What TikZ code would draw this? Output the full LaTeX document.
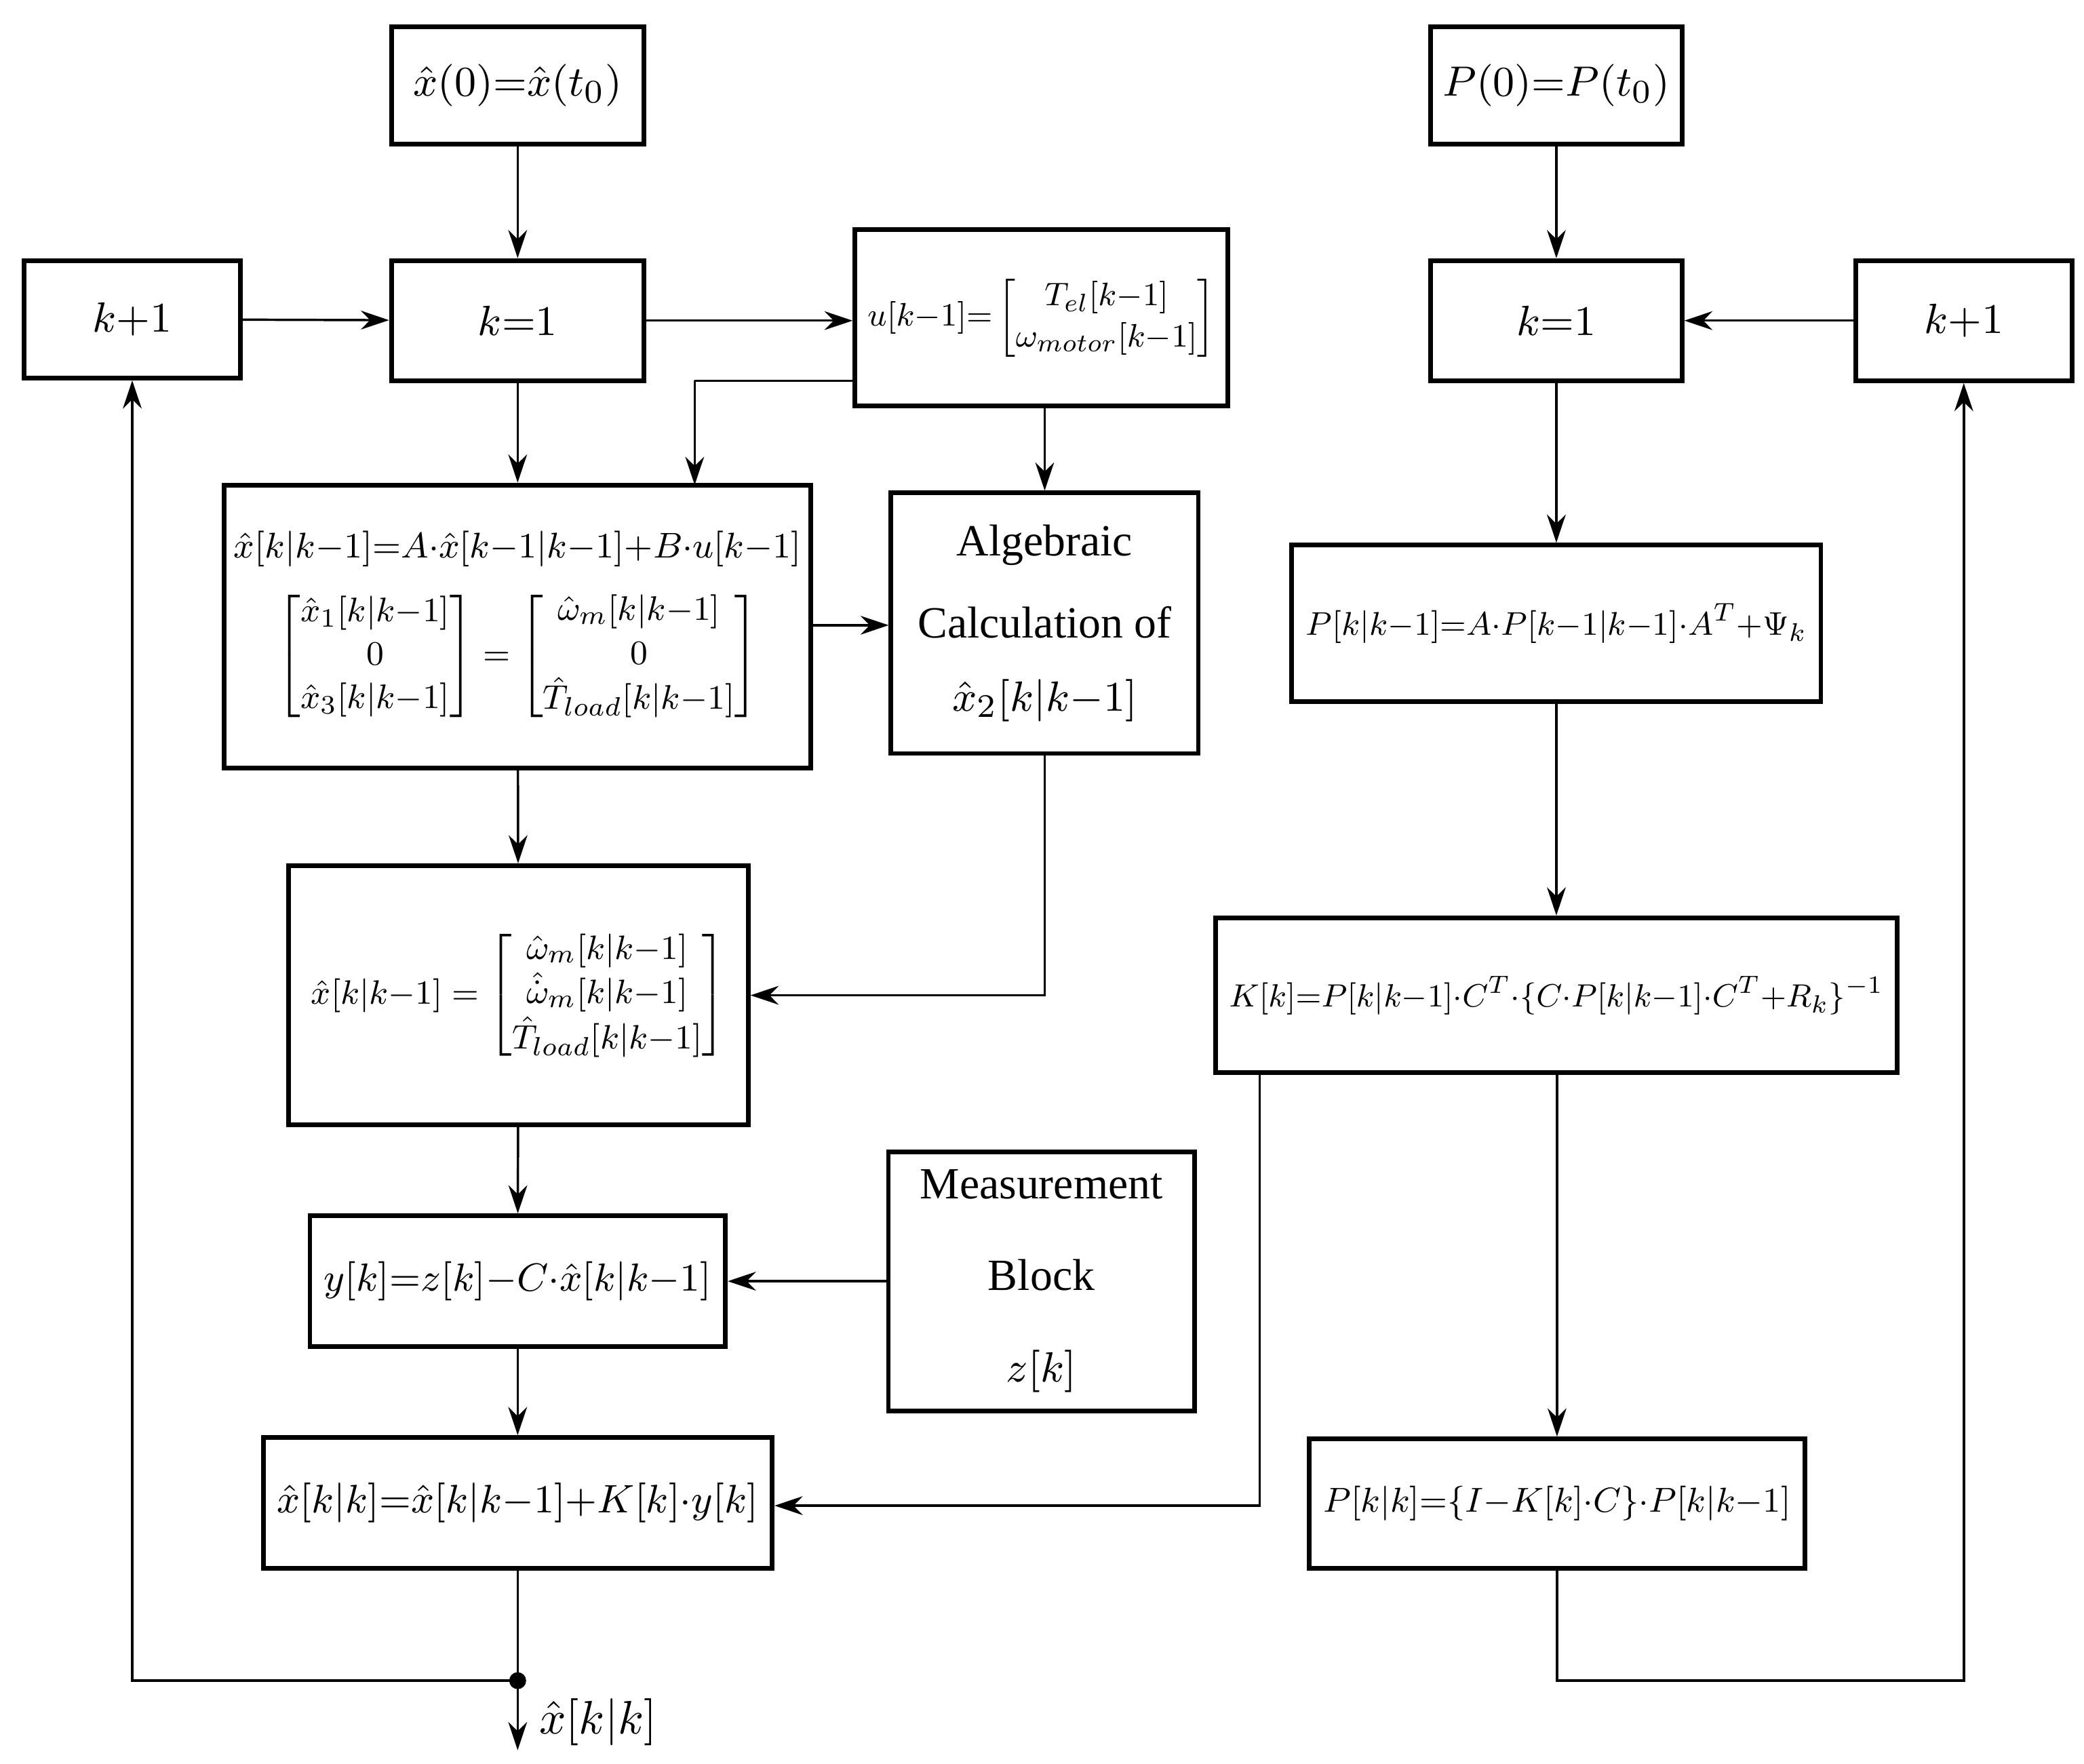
\documentclass[tikz,border=0pt]{standalone}
\usepackage{amsmath}
\usepackage{graphicx}
\usepackage{fontspec}
\setmainfont{Liberation Serif}
\usetikzlibrary{arrows.meta, calc}
\newcommand{\fitw}[2]{\resizebox{#1}{!}{#2}}

\begin{document}
\begin{tikzpicture}[
  box/.style={draw, line width=1pt, inner sep=0pt, align=center, font=\fontsize{9.5}{11.5}\selectfont},
  arr/.style={-{Stealth[length=6pt,width=4pt]}, line width=0.5pt},
  ln/.style={line width=0.5pt},
]
  \useasboundingbox (0,0) rectangle (15.6,-13.2);

  % Left column: state estimate
  \node[box, minimum width=1.89cm, minimum height=0.88cm] (xinit) at (3.875,-0.64) {$\hat{x}(0){=}\hat{x}(t_0)$};
  \node[box, minimum width=1.89cm, minimum height=0.90cm] (kL) at (3.875,-2.40) {$k{=}1$};
  \node[box, minimum width=1.62cm, minimum height=0.88cm] (kpL) at (0.99,-2.39) {$k{+}1$};
  \node[box, minimum width=2.79cm, minimum height=1.32cm] (u) at (7.795,-2.38)
    {\fitw{2.6cm}{$u[k{-}1]{=}\begin{bmatrix} T_{el}[k{-}1]\\ \omega_{motor}[k{-}1]\end{bmatrix}$}};
  \node[box, minimum width=4.39cm, minimum height=2.12cm] (pred) at (3.875,-4.69)
    {\fitw{4.25cm}{$\hat{x}[k|k{-}1]{=}A{\cdot}\hat{x}[k{-}1|k{-}1]{+}B{\cdot}u[k{-}1]$}\\[4pt]
     \fitw{3.6cm}{$\begin{bmatrix}\hat{x}_1[k|k{-}1]\\ 0\\ \hat{x}_3[k|k{-}1]\end{bmatrix}=
      \begin{bmatrix}\hat{\omega}_m[k|k{-}1]\\ 0\\ \hat{T}_{load}[k|k{-}1]\end{bmatrix}$}};
  \node[box, minimum width=2.30cm, minimum height=1.95cm] (alg) at (7.82,-4.665)
    {Algebraic\\[6pt] Calculation of\\[4pt] $\hat{x}_2[k|k{-}1]$};
  \node[box, minimum width=3.44cm, minimum height=1.94cm] (xfull) at (3.88,-7.45)
    {\fitw{3.1cm}{$\hat{x}[k|k{-}1]=\begin{bmatrix}\hat{\omega}_m[k|k{-}1]\\ \hat{\dot{\omega}}_m[k|k{-}1]\\ \hat{T}_{load}[k|k{-}1]\end{bmatrix}$}};
  \node[box, minimum width=3.11cm, minimum height=0.98cm] (innov) at (3.875,-9.59)
    {\fitw{2.9cm}{$y[k]{=}z[k]{-}C{\cdot}\hat{x}[k|k{-}1]$}};
  \node[box, minimum width=2.29cm, minimum height=1.94cm] (meas) at (7.795,-9.59)
    {Measurement\\[8pt] Block\\[8pt] $z[k]$};
  \node[box, minimum width=3.81cm, minimum height=0.98cm] (upd) at (3.875,-11.25)
    {\fitw{3.6cm}{$\hat{x}[k|k]{=}\hat{x}[k|k{-}1]{+}K[k]{\cdot}y[k]$}};

  % Right column: covariance
  \node[box, minimum width=1.88cm, minimum height=0.88cm] (Pinit) at (11.65,-0.64) {$P(0){=}P(t_0)$};
  \node[box, minimum width=1.88cm, minimum height=0.90cm] (kR) at (11.65,-2.40) {$k{=}1$};
  \node[box, minimum width=1.62cm, minimum height=0.90cm] (kpR) at (14.70,-2.40) {$k{+}1$};
  \node[box, minimum width=3.96cm, minimum height=1.17cm] (Ppred) at (11.65,-4.665)
    {\fitw{3.75cm}{$P[k|k{-}1]{=}A{\cdot}P[k{-}1|k{-}1]{\cdot}A^T{+}\Psi_k$}};
  \node[box, minimum width=5.10cm, minimum height=1.16cm] (gain) at (11.65,-7.45)
    {\fitw{4.9cm}{$K[k]{=}P[k|k{-}1]{\cdot}C^T{\cdot}\{C{\cdot}P[k|k{-}1]{\cdot}C^T{+}R_k\}^{-1}$}};
  \node[box, minimum width=3.71cm, minimum height=0.97cm] (Pupd) at (11.655,-11.255)
    {\fitw{3.5cm}{$P[k|k]{=}\{I{-}K[k]{\cdot}C\}{\cdot}P[k|k{-}1]$}};

  % Left connectors
  \draw[arr] (xinit) -- (kL);
  \draw[arr] (kpL) -- (kL);
  \draw[arr] (kL) -- (kL -| u.west);
  \draw[arr] (kL) -- (pred);
  \draw[ln] (6.40,-2.85) -- (5.20,-2.85);
  \draw[arr] (5.20,-2.85) -- (5.20,-3.63);
  \draw[arr] (u.south -| alg.north) -- (alg.north);
  \draw[arr] (pred.east |- 0,-4.68) -- (alg.west |- 0,-4.68);
  \draw[arr] (pred) -- (xfull);
  \draw[arr] (alg.south) -- (7.82,-7.45) -- (xfull.east);
  \draw[arr] (xfull) -- (innov);
  \draw[arr] (meas.west) -- (innov.east);
  \draw[arr] (innov) -- (upd);
  \draw[arr] (9.43,-8.03) -- (9.43,-11.27) -- (upd.east |- 0,-11.27);
  \coordinate (split) at (3.875,-12.58);
  \draw[ln] (upd.south) -- (split);
  \fill (split) circle (1.8pt);
  \coordinate (xout) at (3.875,-13.10);
  \draw[arr] (split) -- (xout) node[pos=0.6, right=1pt, font=\fontsize{10}{12}\selectfont] {$\hat{x}[k|k]$};
  \draw[arr] (split) -- (0.99,-12.58) -- (kpL.south);

  % Right connectors
  \draw[arr] (Pinit) -- (kR);
  \draw[arr] (kpR) -- (kR);
  \draw[arr] (kR) -- (Ppred);
  \draw[arr] (Ppred) -- (gain);
  \draw[arr] (gain.south -| Pupd.north) -- (Pupd.north);
  \draw[arr] (Pupd.south) -- (11.655,-12.58) -- (14.70,-12.58) -- (kpR.south);
\end{tikzpicture}
\end{document}
